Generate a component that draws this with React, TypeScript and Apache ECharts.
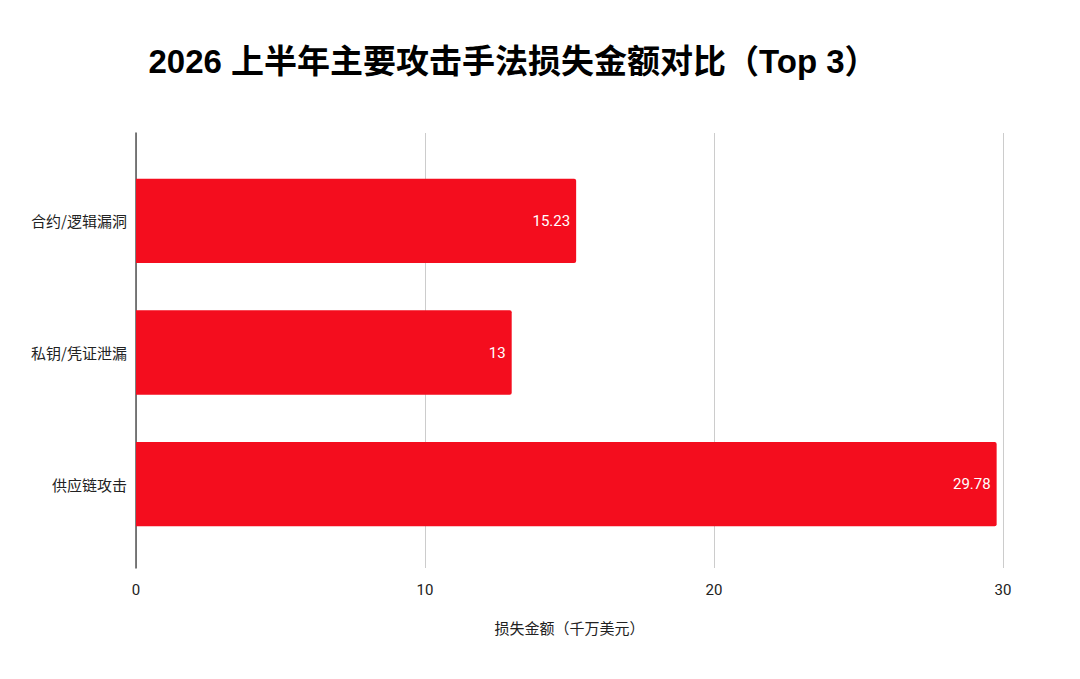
import React, { useEffect, useRef } from "react";
import * as echarts from "echarts";

const categories = ["合约/逻辑漏洞", "私钥/凭证泄漏", "供应链攻击"];
const lossValues = [15.23, 13, 29.78];
const xTicks = [0, 10, 20, 30];

const titleText = "2026 上半年主要攻击手法损失金额对比（Top 3）";
const xAxisName = "损失金额（千万美元）";

export default function App() {
  const ref = useRef<HTMLDivElement>(null);
  useEffect(() => {
    if (!ref.current) return;
    const chart = echarts.init(ref.current, undefined, { renderer: "svg" });
    const font = "'Noto Sans CJK SC', 'Noto Sans', sans-serif";
    const xMin = xTicks[0];
    const xMax = xTicks[xTicks.length - 1];
    chart.setOption({
      animation: false,
      backgroundColor: "#ffffff",
      title: {
        text: titleText,
        left: 508,
        textAlign: "center",
        top: 40,
        textStyle: {
          fontFamily: "Liberation Sans, 'Noto Sans CJK SC', sans-serif",
          fontSize: 33,
          fontWeight: "bold",
          color: "#000000",
        },
      },
      grid: [
        { left: 136, right: 77, top: 133, bottom: 111, containLabel: false },
        { left: 136, right: 77, top: 155, bottom: 129, containLabel: false },
      ],
      xAxis: [
        {
          type: "value",
          gridIndex: 0,
          min: xMin,
          max: xMax,
          interval: 10,
          name: xAxisName,
          nameLocation: "middle",
          nameGap: 52,
          nameTextStyle: { fontFamily: font, fontSize: 15, color: "#222222" },
          axisLine: { show: false },
          axisTick: { show: false },
          axisLabel: { fontFamily: "Roboto, sans-serif", fontSize: 15, color: "#222222", margin: 14 },
          splitLine: { show: true, lineStyle: { color: "#cccccc", width: 1 } },
        },
        {
          type: "value",
          gridIndex: 1,
          min: xMin,
          max: xMax,
          interval: 10,
          show: false,
        },
      ],
      yAxis: [
        {
          type: "value",
          gridIndex: 0,
          min: 0,
          max: 1,
          axisLine: { show: true, lineStyle: { color: "#555555", width: 1.5 } },
          axisTick: { show: false },
          axisLabel: { show: false },
          splitLine: { show: false },
        },
        {
          type: "category",
          gridIndex: 1,
          data: categories,
          inverse: true,
          axisLine: { show: false },
          axisTick: { show: false },
          axisLabel: { fontFamily: font, fontSize: 15, color: "#222222", margin: 9 },
        },
      ],
      series: [
        {
          type: "bar",
          xAxisIndex: 1,
          yAxisIndex: 1,
          data: lossValues,
          barCategoryGap: "36%",
          itemStyle: { color: "#F40D1E", borderRadius: [0, 2, 2, 0] },
          label: {
            show: true,
            position: "insideRight",
            distance: 6,
            color: "#ffffff",
            fontFamily: "Roboto, sans-serif",
            fontSize: 15,
          },
        },
      ],
    });
    return () => chart.dispose();
  }, []);
  return (
    <div
      ref={ref}
      style={{ position: "absolute", left: 0, top: 0, width: 1080, height: 679 }}
    />
  );
}
